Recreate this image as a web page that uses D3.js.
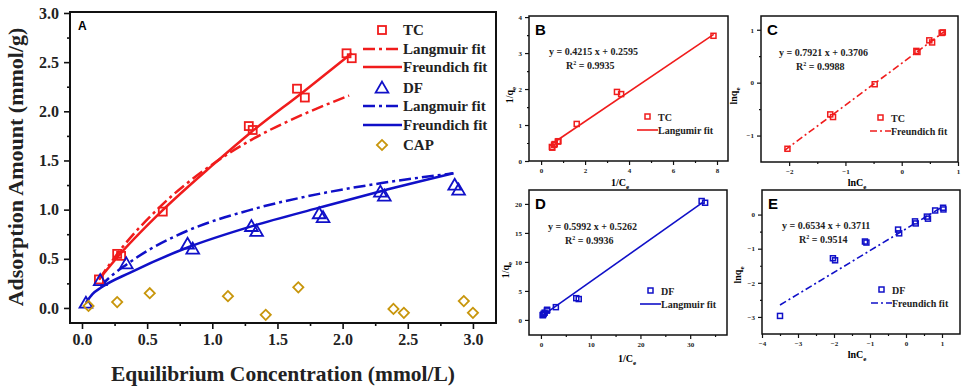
<!DOCTYPE html>
<html>
<head>
<meta charset="utf-8">
<script src="https://cdn.jsdelivr.net/npm/d3@7"></script>
<style>
  body { margin: 0; background: #fff; }
  text { font-family: "Liberation Serif", "Times New Roman", serif; font-weight: bold; }
</style>
</head>
<body>
<script>
const w = 964;
const h = 392;

const red = "#f01c1c";
const blue = "#1010c8";
const gold = "#c8960c";

// ---- panel A : isotherms (Ce mmol/L, qe mmol/g) ----
const tcPoints = [[0.13, 0.29], [0.27, 0.55], [0.30, 0.53], [0.62, 0.98], [1.28, 1.85], [1.31, 1.81],
  [1.65, 2.23], [1.71, 2.14], [2.03, 2.59], [2.07, 2.54]];
const tcLangmuir = [[0.13, 0.29], [0.30, 0.60], [0.60, 1.03], [1.00, 1.46], [1.30, 1.71], [1.70, 1.97], [2.05, 2.16]];
const tcFreundlich = [[0.13, 0.29], [0.30, 0.56], [0.60, 0.97], [1.00, 1.45], [1.30, 1.79], [1.70, 2.20], [2.07, 2.59]];
const dfPoints = [[0.03, 0.05], [0.14, 0.28], [0.34, 0.45], [0.81, 0.65], [0.85, 0.60], [1.30, 0.83], [1.34, 0.78],
  [1.82, 0.96], [1.85, 0.92], [2.29, 1.18], [2.32, 1.14], [2.86, 1.25], [2.89, 1.20]];
const dfLangmuir = [[0.14, 0.22], [0.22, 0.32], [0.34, 0.44], [0.50, 0.58], [0.80, 0.78], [1.30, 1.00],
  [1.82, 1.16], [2.30, 1.27], [2.85, 1.37]];
const dfFreundlich = [[0.03, 0.05], [0.08, 0.14], [0.15, 0.21], [0.37, 0.36], [0.82, 0.62], [1.30, 0.83],
  [1.82, 1.02], [2.30, 1.19], [2.85, 1.37]];
const capPoints = [[0.05, 0.02], [0.27, 0.06], [0.52, 0.15], [1.12, 0.12], [1.41, -0.07], [1.66, 0.21],
  [2.39, -0.01], [2.47, -0.05], [2.93, 0.07], [3.00, -0.05]];
const aLegend = ["TC", "Langmuir fit", "Freundich fit", "DF", "Langmuir fit", "Freundich fit", "CAP"];

// ---- panel B : 1/Ce vs 1/qe, TC ----
const bPoints = [[0.49, 0.39], [0.51, 0.37], [0.59, 0.45], [0.62, 0.47], [0.76, 0.54], [0.79, 0.55],
  [1.62, 1.03], [3.45, 1.92], [3.64, 1.86], [7.84, 3.48]];
const bFit = [[0.5, 0.48], [7.85, 3.52]];
// ---- panel C : lnCe vs lnqe, TC ----
const cPoints = [[-2.03, -1.25], [-1.27, -0.60], [-1.22, -0.65], [-0.48, -0.03], [0.26, 0.60], [0.28, 0.58],
  [0.49, 0.80], [0.54, 0.76], [0.71, 0.94], [0.73, 0.95]];
const cFit = [[-2.08, -1.28], [0.75, 0.96]];
// ---- panel D : 1/Ce vs 1/qe, DF ----
const dPoints = [[0.35, 0.82], [0.43, 0.86], [0.55, 1.06], [0.75, 1.25], [1.2, 1.6], [1.25, 1.75],
  [3.0, 2.2], [7.1, 3.75], [7.6, 3.6], [32.3, 20.5], [33.0, 20.2]];
const dFit = [[0.3, 0.75], [32.6, 20.3]];
// ---- panel E : lnCe vs lnqe, DF ----
const ePoints = [[-3.5, -2.97], [-2.03, -1.28], [-1.97, -1.34], [-1.14, -0.79], [-1.10, -0.82], [-0.22, -0.44],
  [-0.19, -0.55], [0.25, -0.20], [0.27, -0.26], [0.58, -0.06], [0.61, -0.12], [0.81, 0.12], [1.03, 0.20], [1.04, 0.15]];
const eFit = [[-3.5, -2.65], [1.0, 0.22]];

const svg = d3.select("body").append("svg").attr("width", w).attr("height", h);

// frame + axes with major/minor ticks
const drawAxes = (x, y, o) => {
  const g = svg.append("g");
  const [x0, x1] = x.range();
  const [y0, y1] = y.range();
  g.append("g").attr("transform", `translate(0,${y0})`)
    .call(d3.axisBottom(x).tickValues(o.xMajor).tickSize(o.tick).tickSizeOuter(0).tickPadding(o.pad).tickFormat(o.xFmt));
  g.append("g").attr("transform", `translate(0,${y0})`)
    .call(d3.axisBottom(x).tickValues(o.xMinor).tickSize(o.tick / 2).tickSizeOuter(0).tickFormat(""));
  g.append("g").attr("transform", `translate(${x0},0)`)
    .call(d3.axisLeft(y).tickValues(o.yMajor).tickSize(o.tick).tickSizeOuter(0).tickPadding(o.pad).tickFormat(o.yFmt));
  g.append("g").attr("transform", `translate(${x0},0)`)
    .call(d3.axisLeft(y).tickValues(o.yMinor).tickSize(o.tick / 2).tickSizeOuter(0).tickFormat(""));
  g.selectAll(".domain").remove();
  g.selectAll(".tick line").attr("stroke", "#111").attr("stroke-width", o.sw * 0.8);
  g.selectAll(".tick text")
    .style("font-family", '"Liberation Serif", serif')
    .style("font-weight", "bold")
    .style("font-size", o.font + "px")
    .attr("fill", "#222");
  g.append("rect")
    .attr("x", x0).attr("y", y1)
    .attr("width", x1 - x0).attr("height", y0 - y1)
    .attr("fill", "none").attr("stroke", "#111").attr("stroke-width", o.sw);
  return g;
};

const lineGen = (x, y) => d3.line().x((d) => x(d[0])).y((d) => y(d[1])).curve(d3.curveMonotoneX);

const squareAt = (g, x, y, pts, s, color, sw) => {
  g.selectAll(null).data(pts).enter().append("rect")
    .attr("x", (d) => x(d[0]) - s / 2).attr("y", (d) => y(d[1]) - s / 2)
    .attr("width", s).attr("height", s)
    .attr("fill", "none").attr("stroke", color).attr("stroke-width", sw);
};

// sub-scripted label (e.g. 1/q_e)
const subLabel = (g, px, py, main, sub, size, rot) => {
  const t = g.append("text")
    .attr("transform", `translate(${px},${py})` + (rot ? " rotate(-90)" : ""))
    .attr("text-anchor", "middle")
    .style("font-size", size + "px");
  t.append("tspan").text(main);
  t.append("tspan").attr("dy", size * 0.3).style("font-size", size * 0.7 + "px").text(sub);
};

// ================= panel A =================
const ax = d3.scaleLinear().domain([-0.092, 3.177]).range([70, 496]);
const ay = d3.scaleLinear().domain([-0.153, 3.01]).range([323, 12]);
const aMajor = d3.range(0, 3.01, 0.5);
const aMinor = d3.range(0.25, 3.0, 0.5);
drawAxes(ax, ay, {
  xMajor: aMajor, xMinor: aMinor, yMajor: aMajor, yMinor: aMinor,
  tick: 6, pad: 5, font: 16, sw: 2, xFmt: d3.format(".1f"), yFmt: d3.format(".1f"),
});
const ga = svg.append("g");
ga.append("path").datum(tcLangmuir).attr("d", lineGen(ax, ay))
  .attr("fill", "none").attr("stroke", red).attr("stroke-width", 2.5).attr("stroke-dasharray", "12,4,3,4");
ga.append("path").datum(tcFreundlich).attr("d", lineGen(ax, ay))
  .attr("fill", "none").attr("stroke", red).attr("stroke-width", 2.5);
ga.append("path").datum(dfLangmuir).attr("d", lineGen(ax, ay))
  .attr("fill", "none").attr("stroke", blue).attr("stroke-width", 2.5).attr("stroke-dasharray", "12,4,3,4");
ga.append("path").datum(dfFreundlich).attr("d", lineGen(ax, ay))
  .attr("fill", "none").attr("stroke", blue).attr("stroke-width", 2.5);
squareAt(ga, ax, ay, tcPoints, 8, red, 1.8);
const tri = d3.symbol(d3.symbolTriangle, 70);
ga.selectAll(null).data(dfPoints).enter().append("path")
  .attr("d", tri).attr("transform", (d) => `translate(${ax(d[0])},${ay(d[1]) + 1})`)
  .attr("fill", "none").attr("stroke", blue).attr("stroke-width", 1.8);
const dia = d3.symbol(d3.symbolSquare, 52);
ga.selectAll(null).data(capPoints).enter().append("path")
  .attr("d", dia).attr("transform", (d) => `translate(${ax(d[0])},${ay(d[1])}) rotate(45)`)
  .attr("fill", "none").attr("stroke", gold).attr("stroke-width", 1.8);

ga.append("text").attr("x", 78).attr("y", 30)
  .style("font-family", '"Liberation Sans", Arial, sans-serif').style("font-size", "12px").text("A");

// legend A
const legA = ga.append("g");
const rowY = [30, 49, 67, 88, 106, 125, 145];
aLegend.forEach((label, i) => {
  const yy = rowY[i];
  const col = i < 3 ? red : i < 6 ? blue : gold;
  const kind = [0, 3, 6].includes(i) ? "mark" : (i === 1 || i === 4) ? "dash" : "solid";
  if (kind === "mark") {
    if (i === 0) legA.append("rect").attr("x", 378).attr("y", yy - 4).attr("width", 8).attr("height", 8)
      .attr("fill", "none").attr("stroke", col).attr("stroke-width", 1.8);
    if (i === 3) legA.append("path").attr("d", tri).attr("transform", `translate(382,${yy + 1})`)
      .attr("fill", "none").attr("stroke", col).attr("stroke-width", 1.8);
    if (i === 6) legA.append("path").attr("d", dia).attr("transform", `translate(382,${yy}) rotate(45)`)
      .attr("fill", "none").attr("stroke", col).attr("stroke-width", 1.8);
  } else {
    legA.append("line").attr("x1", 363).attr("x2", 402).attr("y1", yy).attr("y2", yy)
      .attr("stroke", col).attr("stroke-width", 2.5)
      .attr("stroke-dasharray", kind === "dash" ? "12,4,3,4" : null);
  }
  legA.append("text").attr("x", 403).attr("y", yy + 5).style("font-size", "15px").attr("fill", "#222").text(label);
});

svg.append("text").attr("x", 283).attr("y", 381).attr("text-anchor", "middle")
  .style("font-size", "21.5px").attr("fill", "#222").text("Equilibrium Concentration (mmol/L)");
svg.append("text").attr("transform", "translate(23,167) rotate(-90)").attr("text-anchor", "middle")
  .style("font-size", "22px").attr("fill", "#222").text("Adsorption Amount (mmol/g)");

// ================= small panels =================
const smallPanel = (cfg) => {
  const x = d3.scaleLinear().domain(cfg.xd).range(cfg.xr);
  const y = d3.scaleLinear().domain(cfg.yd).range(cfg.yr);
  drawAxes(x, y, {
    xMajor: cfg.xMajor, xMinor: cfg.xMinor, yMajor: cfg.yMajor, yMinor: cfg.yMinor,
    tick: 4, pad: 3, font: 7, sw: 1.5, xFmt: d3.format("d"), yFmt: d3.format("d"),
  });
  const g = svg.append("g");
  g.append("path").datum(cfg.fit).attr("d", lineGen(x, y))
    .attr("fill", "none").attr("stroke", cfg.color).attr("stroke-width", 1.6)
    .attr("stroke-dasharray", cfg.dash ? "7,3,2,3" : null);
  squareAt(g, x, y, cfg.points, 5, cfg.color, 1.5);
  const x0 = cfg.xr[0];
  const top = cfg.yr[1];
  g.append("text").attr("x", x0 + 6).attr("y", top + 19)
    .style("font-family", '"Liberation Sans", Arial, sans-serif').style("font-size", "15px").text(cfg.letter);
  g.append("text").attr("x", cfg.eq[0]).attr("y", cfg.eq[1]).style("font-size", "10px").attr("fill", "#222").text(cfg.eqText);
  const r = g.append("text").attr("x", cfg.eq[0] + 17).attr("y", cfg.eq[1] + 14).style("font-size", "10px").attr("fill", "#222");
  r.append("tspan").text("R");
  r.append("tspan").attr("dy", -4).style("font-size", "6px").text("2");
  r.append("tspan").attr("dy", 4).text(" = " + cfg.r2);
  // legend
  const [lx, ly] = cfg.leg;
  g.append("rect").attr("x", lx + 8).attr("y", ly - 3).attr("width", 5).attr("height", 5)
    .attr("fill", "none").attr("stroke", cfg.color).attr("stroke-width", 1.5);
  g.append("text").attr("x", lx + 21).attr("y", ly + 4).style("font-size", "10px").attr("fill", "#222").text(cfg.series);
  g.append("line").attr("x1", lx).attr("x2", lx + 21).attr("y1", ly + 13).attr("y2", ly + 13)
    .attr("stroke", cfg.color).attr("stroke-width", 1.6).attr("stroke-dasharray", cfg.dash ? "7,3,2,3" : null);
  g.append("text").attr("x", lx + 21).attr("y", ly + 17).style("font-size", "10px").attr("fill", "#222").text(cfg.fitName);
  subLabel(g, cfg.ylab[0], cfg.ylab[1], cfg.ylabText[0], cfg.ylabText[1], 10, true);
  subLabel(g, cfg.xlab[0], cfg.xlab[1], cfg.xlabText[0], cfg.xlabText[1], 10, false);
};

smallPanel({
  letter: "B", xd: [-0.55, 8.5], xr: [529, 728], yd: [0, 4.03], yr: [161, 16],
  xMajor: [0, 2, 4, 6, 8], xMinor: [1, 3, 5, 7], yMajor: [0, 1, 2, 3, 4], yMinor: [0.5, 1.5, 2.5, 3.5],
  points: bPoints, fit: bFit, color: red, dash: false,
  eq: [549, 55], eqText: "y = 0.4215 x + 0.2595", r2: "0.9935",
  leg: [637, 117], series: "TC", fitName: "Langumir fit",
  ylab: [513, 95], ylabText: ["1/q", "e"], xlab: [620, 186], xlabText: ["1/C", "e"],
});
smallPanel({
  letter: "C", xd: [-2.5, 1], xr: [761, 958], yd: [-1.5, 1.26], yr: [162, 16],
  xMajor: [-2, -1, 0, 1], xMinor: [-1.5, -0.5, 0.5], yMajor: [-1, 0, 1], yMinor: [-0.5, 0.5],
  points: cPoints, fit: cFit, color: red, dash: true,
  eq: [779, 56], eqText: "y = 0.7921 x + 0.3706", r2: "0.9988",
  leg: [870, 118], series: "TC", fitName: "Freundich fit",
  ylab: [737, 96], ylabText: ["lnq", "e"], xlab: [857, 186], xlabText: ["lnC", "e"],
});
smallPanel({
  letter: "D", xd: [-2.4, 37.4], xr: [529, 727], yd: [-2.6, 22.4], yr: [335, 190],
  xMajor: [0, 10, 20, 30], xMinor: [5, 15, 25, 35], yMajor: [0, 5, 10, 15, 20], yMinor: [],
  points: dPoints, fit: dFit, color: blue, dash: false,
  eq: [548, 230], eqText: "y = 0.5992 x + 0.5262", r2: "0.9936",
  leg: [640, 291], series: "DF", fitName: "Langmuir fit",
  ylab: [509, 270], ylabText: ["1/q", "e"], xlab: [627, 362], xlabText: ["1/C", "e"],
});
smallPanel({
  letter: "E", xd: [-4, 1.5], xr: [762, 960], yd: [-3.5, 0.72], yr: [334, 190],
  xMajor: [-4, -3, -2, -1, 0, 1], xMinor: [-3.5, -2.5, -1.5, -0.5, 0.5], yMajor: [0, -1, -2, -3], yMinor: [-0.5, -1.5, -2.5],
  points: ePoints, fit: eFit, color: blue, dash: true,
  eq: [782, 229], eqText: "y = 0.6534 x + 0.3711", r2: "0.9514",
  leg: [871, 290], series: "DF", fitName: "Freundich fit",
  ylab: [741, 275], ylabText: ["lnq", "e"], xlab: [857, 358], xlabText: ["lnC", "e"],
});
</script>
</body>
</html>
